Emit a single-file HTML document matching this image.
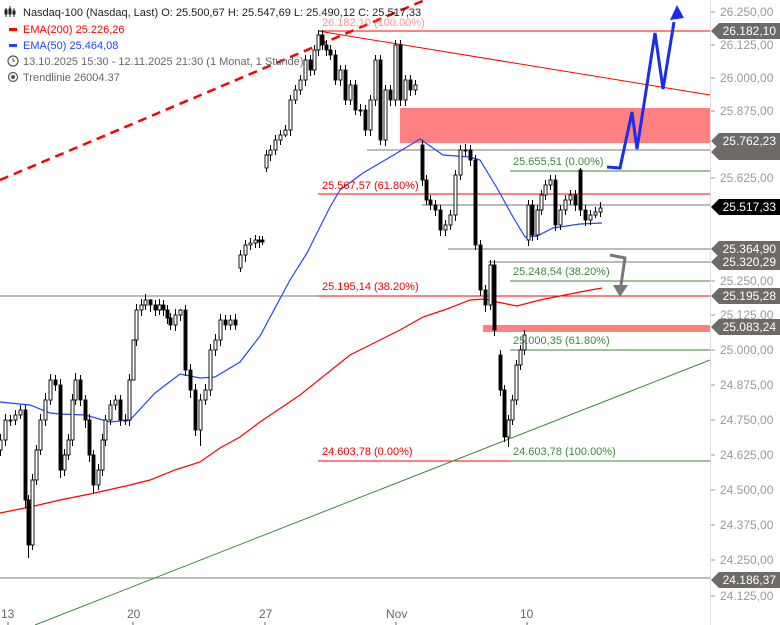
<!DOCTYPE html>
<html><head><meta charset="utf-8"><style>
html,body{margin:0;padding:0;background:#fff;}
svg{display:block;font-family:"Liberation Sans",sans-serif;}
.u{fill:#fff;stroke:#000;stroke-width:0.9}
.d{fill:#000;stroke:#000;stroke-width:0.9}
.yl{fill:#999;font-size:12px}
.tg{fill:#fff;font-size:12px}
</style></head><body>
<svg width="780" height="625" viewBox="0 0 780 625" xmlns="http://www.w3.org/2000/svg">
<rect width="780" height="625" fill="#fff"/>
<rect x="400" y="108" width="310" height="35" fill="#ff8080"/>
<rect x="483" y="325" width="227" height="7" fill="#ff8080"/>
<g stroke-width="1" fill="none">
<line x1="318" y1="31" x2="710" y2="31" stroke="#f00"/>
<line x1="318" y1="31" x2="710" y2="95" stroke="#f00"/>
<line x1="367" y1="150" x2="710" y2="150" stroke="#777"/>
<line x1="510" y1="171" x2="710" y2="171" stroke="#3a8a3a"/>
<line x1="318" y1="194" x2="710" y2="194" stroke="#f00"/>
<line x1="422" y1="205" x2="710" y2="205" stroke="#777"/>
<line x1="448" y1="249" x2="710" y2="249" stroke="#777"/>
<line x1="488" y1="262" x2="710" y2="262" stroke="#777"/>
<line x1="510" y1="281" x2="710" y2="281" stroke="#3a8a3a"/>
<line x1="0" y1="296" x2="318" y2="296" stroke="#777"/>
<line x1="318" y1="296" x2="710" y2="296" stroke="#f00"/>
<line x1="510" y1="350" x2="710" y2="350" stroke="#3a8a3a"/>
<line x1="318" y1="461" x2="510" y2="461" stroke="#f00"/>
<line x1="510" y1="461" x2="710" y2="461" stroke="#3a8a3a"/>
<line x1="0" y1="578" x2="710" y2="578" stroke="#777"/>
<line x1="35" y1="625" x2="710" y2="360" stroke="#3a8a3a"/>
<line x1="0" y1="180" x2="425" y2="0" stroke="#f00" stroke-width="2.5" stroke-dasharray="9,6"/>
</g>
<polyline fill="none" stroke="#f00" stroke-width="1.2" points="0,513 30,507 60,500 90,494 130,485 150,480 175,470 200,462 220,448 240,437 260,422 300,395 350,355 400,330 423,317 447,309 470,300 485,299 497,302 517,306 540,300 580,292 602,288"/>
<polyline fill="none" stroke="#2244ff" stroke-width="1.2" points="0,402 30,405 50,413 60,414 85,415 110,422 130,420 155,393 180,374 200,378 215,377 240,362 260,336 290,280 307,253 330,207 340,190 363,173 397,153 420,139 443,155 470,157 480,160 497,188 513,217 525,237 537,236 553,228 580,224 602,223"/>
<path stroke="#000" stroke-width="1" fill="none" d="
M0.5 434V456 M5.5 414V446 M10.5 415V426 M15.5 410V425 M20.5 405V419 M25.5 405V508 M28.5 495V558 M32.5 474V550 M36.5 445V485 M40.5 414V455 M45.5 393V426 M50.5 374V405 M55.5 375V391 M60.5 379V478 M64.5 449V476 M68.5 434V460 M72.5 394V446 M75.5 373V405 M80.5 375V406 M85.5 395V428 M89.5 414V462 M93.5 450V493 M98.5 464V490 M102.5 434V476 M105.5 415V446 M110.5 400V425 M115.5 395V410 M120.5 395V426 M125.5 414V425 M129.5 374V426 M133.5 374V346 M136.5 304V346 M141.5 299V316 M145.5 294V310 M150.5 299V312 M155.5 300V316 M159.5 299V315 M163.5 300V316 M167.5 305V324 M170.5 313V330 M175.5 309V331 M180.5 309V321 M185.5 305V376 M190.5 364V398 M195.5 384V436 M200.5 394V446 M205.5 384V405 M210.5 344V396 M215.5 334V356 M220.5 314V346 M225.5 315V330 M230.5 315V330 M235.5 314V330
M240.5 250V272 M245.5 240V262 M250.5 238V250 M255.5 235V248 M259.5 236V248 M262.5 236V245
M266.5 150V172 M270.5 145V161 M275.5 135V155 M280.5 130V145 M285.5 125V137 M290.5 95V136 M295.5 85V104 M300.5 75V95 M305.5 55V86 M310.5 55V76 M314.5 45V75 M318.5 30V56 M322.5 30V50 M326.5 40V56 M330.5 45V60 M335.5 50V85 M340.5 65V86 M345.5 65V105 M350.5 80V105 M355.5 80V115 M360.5 104V116 M365.5 105V136 M370.5 95V136 M375.5 55V106 M380.5 55V145 M385.5 85V146 M390.5 85V106 M395.5 40V106 M400.5 40V106 M405.5 75V106 M410.5 75V96 M415.5 80V95
M422.5 140V186 M426.5 175V205 M430.5 195V210 M435.5 200V216 M440.5 205V236 M445.5 220V236 M450.5 210V230 M455.5 170V221 M460.5 145V180 M465.5 144V156 M470.5 145V166 M475.5 155V250 M480.5 240V296 M485.5 285V312 M490.5 260V310 M494.5 260V336
M500.5 350V396 M504.5 385V442 M508.5 415V447 M512.5 395V425 M516.5 360V405 M520.5 345V370 M524.5 330V355
M528.5 200V246 M532.5 200V241 M537.5 205V240 M541.5 190V215 M545.5 180V200 M550.5 175V190 M555.5 175V231 M560.5 205V230 M565.5 195V215 M570.5 190V205 M575.5 190V211 M580.5 168V216 M585.5 205V226 M590.5 210V225 M595.5 207V218 M600.5 202V217"/>
<g>
<rect class="u" x="-1" y="440" width="3" height="10"/><rect class="u" x="4" y="420" width="3" height="20"/><rect class="d" x="9" y="420" width="3" height="1"/><rect class="u" x="14" y="415" width="3" height="5"/><rect class="u" x="19" y="410" width="3" height="5"/><rect class="d" x="24" y="410" width="3" height="90"/><rect class="d" x="27" y="500" width="3" height="45"/><rect class="u" x="31" y="480" width="3" height="65"/><rect class="u" x="35" y="450" width="3" height="30"/><rect class="u" x="39" y="420" width="3" height="30"/><rect class="u" x="44" y="400" width="3" height="20"/><rect class="u" x="49" y="380" width="3" height="20"/><rect class="d" x="54" y="380" width="3" height="5"/><rect class="d" x="59" y="385" width="3" height="85"/><rect class="u" x="63" y="455" width="3" height="15"/><rect class="u" x="67" y="440" width="3" height="15"/><rect class="u" x="71" y="400" width="3" height="40"/><rect class="u" x="74" y="380" width="3" height="20"/><rect class="d" x="79" y="380" width="3" height="20"/><rect class="d" x="84" y="400" width="3" height="20"/><rect class="d" x="88" y="420" width="3" height="35"/><rect class="d" x="92" y="455" width="3" height="30"/><rect class="u" x="97" y="470" width="3" height="15"/><rect class="u" x="101" y="440" width="3" height="30"/><rect class="u" x="104" y="420" width="3" height="20"/><rect class="u" x="109" y="405" width="3" height="15"/><rect class="u" x="114" y="400" width="3" height="5"/><rect class="d" x="119" y="400" width="3" height="20"/><rect class="d" x="124" y="420" width="3" height="1"/><rect class="u" x="128" y="380" width="3" height="40"/><rect class="u" x="132" y="340" width="3" height="40"/><rect class="u" x="135" y="310" width="3" height="30"/><rect class="u" x="140" y="305" width="3" height="5"/><rect class="u" x="144" y="300" width="3" height="5"/><rect class="d" x="149" y="300" width="3" height="5"/><rect class="d" x="154" y="305" width="3" height="5"/><rect class="u" x="158" y="305" width="3" height="5"/><rect class="d" x="162" y="305" width="3" height="5"/><rect class="d" x="166" y="310" width="3" height="8"/><rect class="d" x="169" y="318" width="3" height="7"/><rect class="u" x="174" y="315" width="3" height="10"/><rect class="u" x="179" y="310" width="3" height="5"/><rect class="d" x="184" y="310" width="3" height="60"/><rect class="d" x="189" y="370" width="3" height="20"/><rect class="d" x="194" y="390" width="3" height="40"/><rect class="u" x="199" y="400" width="3" height="30"/><rect class="u" x="204" y="390" width="3" height="10"/><rect class="u" x="209" y="350" width="3" height="40"/><rect class="u" x="214" y="340" width="3" height="10"/><rect class="u" x="219" y="320" width="3" height="20"/><rect class="d" x="224" y="320" width="3" height="5"/><rect class="u" x="229" y="320" width="3" height="5"/><rect class="d" x="234" y="320" width="3" height="5"/>
<rect class="u" x="239" y="255" width="3" height="13"/><rect class="u" x="244" y="245" width="3" height="10"/><rect class="u" x="249" y="243" width="3" height="2"/><rect class="u" x="254" y="240" width="3" height="3"/><rect class="d" x="258" y="240" width="3" height="2"/><rect class="d" x="261" y="240" width="3" height="2"/>
<rect class="u" x="265" y="155" width="3" height="13"/><rect class="u" x="269" y="150" width="3" height="5"/><rect class="u" x="274" y="140" width="3" height="10"/><rect class="u" x="279" y="135" width="3" height="5"/><rect class="u" x="284" y="130" width="3" height="5"/><rect class="u" x="289" y="100" width="3" height="30"/><rect class="u" x="294" y="90" width="3" height="10"/><rect class="u" x="299" y="80" width="3" height="10"/><rect class="u" x="304" y="60" width="3" height="20"/><rect class="d" x="309" y="60" width="3" height="10"/><rect class="u" x="313" y="50" width="3" height="20"/><rect class="u" x="317" y="35" width="3" height="15"/><rect class="d" x="321" y="35" width="3" height="10"/><rect class="d" x="325" y="45" width="3" height="5"/><rect class="d" x="329" y="50" width="3" height="5"/><rect class="d" x="334" y="55" width="3" height="25"/><rect class="u" x="339" y="70" width="3" height="10"/><rect class="d" x="344" y="70" width="3" height="30"/><rect class="u" x="349" y="85" width="3" height="15"/><rect class="d" x="354" y="85" width="3" height="25"/><rect class="d" x="359" y="110" width="3" height="1"/><rect class="d" x="364" y="110" width="3" height="20"/><rect class="u" x="369" y="100" width="3" height="30"/><rect class="u" x="374" y="60" width="3" height="40"/><rect class="d" x="379" y="60" width="3" height="80"/><rect class="u" x="384" y="90" width="3" height="50"/><rect class="d" x="389" y="90" width="3" height="10"/><rect class="u" x="394" y="45" width="3" height="55"/><rect class="d" x="399" y="45" width="3" height="55"/><rect class="u" x="404" y="80" width="3" height="20"/><rect class="d" x="409" y="80" width="3" height="10"/><rect class="u" x="414" y="85" width="3" height="5"/>
<rect class="d" x="421" y="145" width="3" height="35"/><rect class="d" x="425" y="180" width="3" height="20"/><rect class="d" x="429" y="200" width="3" height="5"/><rect class="d" x="434" y="205" width="3" height="5"/><rect class="d" x="439" y="210" width="3" height="20"/><rect class="u" x="444" y="225" width="3" height="5"/><rect class="u" x="449" y="215" width="3" height="10"/><rect class="u" x="454" y="175" width="3" height="40"/><rect class="u" x="459" y="150" width="3" height="25"/><rect class="d" x="464" y="150" width="3" height="1"/><rect class="d" x="469" y="150" width="3" height="10"/><rect class="d" x="474" y="160" width="3" height="85"/><rect class="d" x="479" y="245" width="3" height="45"/><rect class="d" x="484" y="290" width="3" height="15"/><rect class="u" x="489" y="265" width="3" height="40"/><rect class="d" x="493" y="265" width="3" height="65"/>
<rect class="d" x="499" y="355" width="3" height="35"/><rect class="d" x="503" y="390" width="3" height="47"/><rect class="u" x="507" y="420" width="3" height="17"/><rect class="u" x="511" y="400" width="3" height="20"/><rect class="u" x="515" y="365" width="3" height="35"/><rect class="u" x="519" y="350" width="3" height="15"/><rect class="u" x="523" y="335" width="3" height="15"/>
<rect class="u" x="527" y="205" width="3" height="35"/><rect class="d" x="531" y="205" width="3" height="30"/><rect class="u" x="536" y="210" width="3" height="25"/><rect class="u" x="540" y="195" width="3" height="15"/><rect class="u" x="544" y="185" width="3" height="10"/><rect class="u" x="549" y="180" width="3" height="5"/><rect class="d" x="554" y="180" width="3" height="45"/><rect class="u" x="559" y="210" width="3" height="15"/><rect class="u" x="564" y="200" width="3" height="10"/><rect class="u" x="569" y="195" width="3" height="5"/><rect class="d" x="574" y="195" width="3" height="10"/><rect class="d" x="579" y="170" width="3" height="40"/><rect class="d" x="584" y="210" width="3" height="10"/><rect class="u" x="589" y="215" width="3" height="5"/><rect class="u" x="594" y="212" width="3" height="3"/><rect class="u" x="599" y="208" width="3" height="4"/>
</g>
<g font-size="11">
<text x="322" y="26" fill="#f66" opacity="0.7">26.182,10 (100.00%)</text>
<text x="322" y="189" fill="#e00">25.567,57 (61.80%)</text>
<text x="322" y="290" fill="#e00">25.195,14 (38.20%)</text>
<text x="322" y="455" fill="#e00">24.603,78 (0.00%)</text>
<text x="513" y="165" fill="#3a8a3a">25.655,51 (0.00%)</text>
<text x="513" y="275" fill="#3a8a3a">25.248,54 (38.20%)</text>
<text x="513" y="344" fill="#3a8a3a">25.000,35 (61.80%)</text>
<text x="513" y="455" fill="#3a8a3a">24.603,78 (100.00%)</text>
</g>
<polyline fill="none" stroke="#1a2cf0" stroke-width="3" points="607,167 620,168 632,112 637,149 655,33 663,89 674,22"/>
<polygon points="670,20 684,18 677,5" fill="#1a2cf0"/>
<polyline fill="none" stroke="#777" stroke-width="3" points="610,255 625,258 621,285"/>
<polygon points="613,285 628,285 620,297" fill="#777"/>
<line x1="710.5" y1="0" x2="710.5" y2="625" stroke="#ddd"/>
<g stroke="#999">
<line x1="711" y1="12" x2="715" y2="12"/><line x1="711" y1="45" x2="715" y2="45"/><line x1="711" y1="78" x2="715" y2="78"/><line x1="711" y1="111" x2="715" y2="111"/><line x1="711" y1="178" x2="715" y2="178"/><line x1="711" y1="281" x2="715" y2="281"/><line x1="711" y1="315" x2="715" y2="315"/><line x1="711" y1="350" x2="715" y2="350"/><line x1="711" y1="385" x2="715" y2="385"/><line x1="711" y1="420" x2="715" y2="420"/><line x1="711" y1="455" x2="715" y2="455"/><line x1="711" y1="490" x2="715" y2="490"/><line x1="711" y1="525" x2="715" y2="525"/><line x1="711" y1="560" x2="715" y2="560"/><line x1="711" y1="596" x2="715" y2="596"/>
</g>
<g class="yl">
<text x="720" y="16">26.250,00</text><text x="720" y="49">26.125,00</text><text x="720" y="82">26.000,00</text><text x="720" y="115">25.875,00</text><text x="720" y="182">25.625,00</text><text x="720" y="285">25.250,00</text><text x="720" y="319">25.125,00</text><text x="720" y="354">25.000,00</text><text x="720" y="389">24.875,00</text><text x="720" y="424">24.750,00</text><text x="720" y="459">24.625,00</text><text x="720" y="494">24.500,00</text><text x="720" y="529">24.375,00</text><text x="720" y="564">24.250,00</text><text x="720" y="600">24.125,00</text>
</g>
<g>
<polygon points="711,31 719,23 780,23 780,39 719,39" fill="#6e6a67"/>
<polygon points="711,152 719,144 780,144 780,160 719,160" fill="#6e6a67"/>
<polygon points="711,141 719,133 780,133 780,149 719,149" fill="#6e6a67"/>
<polygon points="711,207 719,199 780,199 780,215 719,215" fill="#000"/>
<polygon points="711,249 719,241 780,241 780,257 719,257" fill="#6e6a67"/>
<polygon points="711,262 719,254 780,254 780,270 719,270" fill="#6e6a67"/>
<polygon points="711,296 719,288 780,288 780,304 719,304" fill="#6e6a67"/>
<polygon points="711,327 719,319 780,319 780,335 719,335" fill="#6e6a67"/>
<polygon points="711,580 719,572 780,572 780,588 719,588" fill="#6e6a67"/>
</g>
<g class="tg" text-anchor="end">
<text x="776" y="35">26.182,10</text><text x="776" y="145">25.762,23</text><text x="776" y="211">25.517,33</text><text x="776" y="253">25.364,90</text><text x="776" y="266">25.320,29</text><text x="776" y="300">25.195,28</text><text x="776" y="331">25.083,24</text><text x="776" y="584">24.186,37</text>
</g>
<g font-size="12" fill="#666">
<text x="1" y="618">13</text><text x="127" y="618">20</text><text x="259" y="618">27</text><text x="386" y="618">Nov</text><text x="520" y="618">10</text>
</g>
<g stroke="#666"><line x1="8" y1="622" x2="8" y2="625"/><line x1="133" y1="622" x2="133" y2="625"/><line x1="265" y1="622" x2="265" y2="625"/><line x1="396" y1="622" x2="396" y2="625"/><line x1="527" y1="622" x2="527" y2="625"/></g>
<g font-size="11">
<g stroke="#222" stroke-width="1" fill="none"><line x1="6" y1="8" x2="6" y2="17"/><line x1="10" y1="6" x2="10" y2="17"/><line x1="14" y1="8" x2="14" y2="17"/><rect x="5" y="10" width="2" height="4"/><rect x="9" y="9" width="2" height="5"/><rect x="13" y="11" width="2" height="3"/></g>
<text x="23" y="16" fill="#222">Nasdaq-100 (Nasdaq, Last)  O: 25.500,67  H: 25.547,69  L: 25.490,12  C: 25.517,33</text>
<rect x="9" y="28" width="8" height="3" fill="#f00"/><text x="23" y="33" fill="#f00">EMA(200)  25.226,26</text>
<rect x="9" y="44" width="8" height="3" fill="#2244ff"/><text x="23" y="49" fill="#2244ff">EMA(50)  25.464,08</text>
<circle cx="13" cy="61" r="5" fill="none" stroke="#555" stroke-width="1.2"/><path d="M13 58v3h2" stroke="#555" fill="none"/>
<text x="23" y="65" fill="#666">13.10.2025 15:30 - 12.11.2025 21:30   (1 Monat, 1 Stunde)</text>
<circle cx="13" cy="77" r="4.5" fill="none" stroke="#555" stroke-width="1.2"/><circle cx="13" cy="77" r="2" fill="#555"/>
<text x="23" y="81" fill="#666">Trendlinie  26004.37</text>
</g>
</svg>
</body></html>
